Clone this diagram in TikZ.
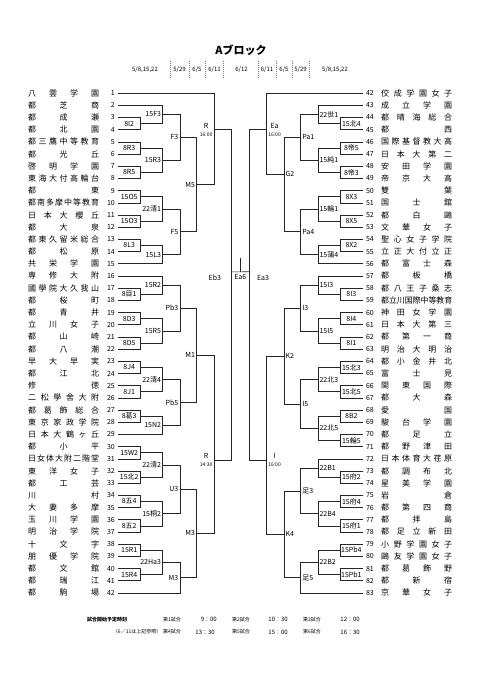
\documentclass[tikz,border=0pt]{standalone}
\usepackage{fontspec}
\setmainfont{Noto Sans CJK JP}
\usepackage{graphicx}
\usetikzlibrary{calc}

% names spread over a fixed width, squeezed when too long
\newcommand\spreadname[1]{{\spaceskip=0pt plus 1fil\relax
  \sbox0{#1}%
  \ifdim\wd0>71pt \resizebox{71pt}{\height}{#1}\else\makebox[71pt][s]{#1}\fi}}
\newcommand\stime[1]{{\fontsize{5}{5}\selectfont #1}}

% left half: match of two entries, label left of the vertical
\newcommand\matchL[6][0.5]{%
  \draw[bline] (#3) -- (#3 -| #5) -- (#4 -| #5) -- (#4);
  \coordinate (#2) at ($(#3 -| #5)!#1!(#4 -| #5)$);
  \node[mlab, anchor=east] (#2t) at ([xshift=-1.5pt]#2) {#6};}
\newcommand\boxL[4]{%
  \draw[bline] (#2) -- (#2 -| xa) -- (#3 -| xa) -- (#3);
  \coordinate (#1) at ($(#2 -| xa)!0.5!(#3 -| xa)$);
  \node[mlab] (#1t) at ([xshift=-11.5pt]#1) {#4};}
% right half: mirrored
\newcommand\matchR[6][0.5]{%
  \draw[bline] (#3) -- (#3 -| #5) -- (#4 -| #5) -- (#4);
  \coordinate (#2) at ($(#3 -| #5)!#1!(#4 -| #5)$);
  \node[mlab, anchor=west] (#2t) at ([xshift=1.5pt]#2) {#6};}
\newcommand\boxR[4]{%
  \draw[bline] (#2) -- (#2 -| ya) -- (#3 -| ya) -- (#3);
  \coordinate (#1) at ($(#2 -| ya)!0.5!(#3 -| ya)$);
  \node[mlab] (#1t) at ([xshift=11.5pt]#1) {#4};}

\begin{document}
\begin{tikzpicture}[
  x=1pt, y=-1pt,
  bline/.style={line width=0.6pt, draw=black!85},
  tname/.style={font=\fontsize{8}{8}\selectfont, inner sep=0pt},
  tnum/.style={font=\fontsize{7}{7}\selectfont, inner sep=0pt},
  mlab/.style={font=\fontsize{7}{7}\selectfont, inner sep=0pt, align=center},
  dlab/.style={font=\fontsize{6}{6}\selectfont, inner sep=0pt},
  sep/.style={gray, line width=0.5pt, dash pattern=on 1pt off 1pt},
  legend/.style={font=\fontsize{5}{5}\selectfont, inner sep=0pt, anchor=west},
  ltime/.style={font=\fontsize{6}{6}\selectfont, inner sep=0pt, anchor=east},
]
\path[fill=white] (0,0) rectangle (481,680);
\useasboundingbox (0,0) rectangle (481,680);

% Header
\node[font=\bfseries\fontsize{11}{11}\selectfont] (title) at (241,50.5) {Aブロック};
\node[dlab] (dL1) at (145,70) {5/8,15,22};
\node[dlab] (dL2) at (179.5,70) {5/29};
\node[dlab] (dL3) at (197,70) {6/5};
\node[dlab] (dL4) at (214.5,70) {6/11};
\node[dlab] (dC)  at (241.5,70) {6/12};
\node[dlab] (dR4) at (267,70) {6/11};
\node[dlab] (dR3) at (284,70) {6/5};
\node[dlab] (dR2) at (300.5,70) {5/29};
\node[dlab] (dR1) at (335,70) {5/8,15,22};
\foreach \x in {170,189,205.5,223.5,258.5,276,292.5,309.5}
  \draw[sep] (\x,61) -- (\x,79);

% Round columns
\coordinate (xa) at (140.7,0);  \coordinate (ya) at (339.9,0);
\coordinate (xb) at (162.7,0);  \coordinate (yb) at (317.9,0);
\coordinate (xc) at (180,0);    \coordinate (yc) at (300.6,0);
\coordinate (xd) at (196.7,0);  \coordinate (yd) at (283.9,0);
\coordinate (xe) at (214,0);    \coordinate (ye) at (266.6,0);
\coordinate (xf) at (231.7,0);  \coordinate (yf) at (248.9,0);

% Teams, left
\foreach \n/\s in {1/八 雲 学 園, 2/都 芝 商, 3/都 成 瀬, 4/都 北 園,
  5/都 三 鷹 中 等 教 育, 6/都 光 丘, 7/啓 明 学 園, 8/東 海 大 付 高 輪 台,
  9/都 東, 10/都 南 多 摩 中 等 教 育, 11/日 本 大 櫻 丘, 12/都 大 泉,
  13/都 東 久 留 米 総 合, 14/都 松 原, 15/共 栄 学 園, 16/専 修 大 附,
  17/國 學 院 大 久 我 山, 18/都 桜 町, 19/都 青 井, 20/立 川 女 子,
  21/都 山 崎, 22/都 八 潮, 23/早 大 早 実, 24/都 江 北, 25/修 徳,
  26/二 松 學 舍 大 附, 27/都 葛 飾 総 合, 28/東 京 家 政 学 院,
  29/日 本 大 鶴 ヶ 丘, 30/都 小 平, 31/日 女 体 大 附 二 階 堂,
  32/東 洋 女 子, 33/都 工 芸, 34/川 村, 35/大 妻 多 摩, 36/玉 川 学 園,
  37/明 治 学 院, 38/十 文 字, 39/朋 優 学 院, 40/都 文 館, 41/都 瑞 江,
  42/都 駒 場}{
  \pgfmathsetmacro\yy{93.1+(\n-1)*12.19}
  \node[tnum, anchor=east] (nL\n) at (115,\yy) {\n};
  \node[tname, anchor=west] (sL\n) at (28,\yy) {\spreadname{\s}};
  \coordinate (L\n) at (117.8,\yy);
}

% Teams, right
\foreach \n/\s in {42/佼 成 学 園 女 子, 43/成 立 学 園, 44/都 晴 海 総 合,
  45/都 西, 46/国 際 基 督 教 大 高, 47/日 本 大 第 二, 48/安 田 学 園,
  49/帝 京 大 高, 50/雙 葉, 51/国 士 舘, 52/都 白 鷗, 53/文 華 女 子,
  54/聖 心 女 子 学 院, 55/立 正 大 付 立 正, 56/都 富 士 森, 57/都 板 橋,
  58/都 八 王 子 桑 志, 59/都 立 川 国 際 中 等 教 育, 60/神 田 女 学 園,
  61/日 本 大 第 三, 62/都 第 一 商, 63/明 治 大 明 治, 64/都 小 金 井 北,
  65/富 士 見, 66/関 東 国 際, 67/都 大 森, 68/愛 国, 69/駿 台 学 園,
  70/都 足 立, 71/都 野 津 田, 72/日 本 体 育 大 荏 原, 73/都 調 布 北,
  74/星 美 学 園, 75/岩 倉, 76/都 第 四 商, 77/都 拝 島, 78/都 足 立 新 田,
  79/小 野 学 園 女 子, 80/鷗 友 学 園 女 子, 81/都 葛 飾 野, 82/都 新 宿,
  83/京 華 女 子}{
  \pgfmathsetmacro\yy{93.1+(\n-42)*12.19}
  \node[tnum, anchor=west] (nR\n) at (365.8,\yy) {\n};
  \node[tname, anchor=west] (sR\n) at (381,\yy) {\spreadname{\s}};
  \coordinate (R\n) at (362.8,\yy);
}

% Left bracket: first round
\boxL{a3}{L3}{L4}{8I2}
\boxL{a5}{L5}{L6}{8R3}
\boxL{a7}{L7}{L8}{8R5}
\boxL{a9}{L9}{L10}{15O5}
\boxL{a11}{L11}{L12}{15O3}
\boxL{a13}{L13}{L14}{8L3}
\boxL{a17}{L17}{L18}{8目1}
\boxL{a19}{L19}{L20}{8D3}
\boxL{a21}{L21}{L22}{8D5}
\boxL{a23}{L23}{L24}{8J4}
\boxL{a25}{L25}{L26}{8J1}
\boxL{a27}{L27}{L28}{8葛3}
\boxL{a30}{L30}{L31}{15W2}
\boxL{a32}{L32}{L33}{15北2}
\boxL{a34}{L34}{L35}{8五4}
\boxL{a36}{L36}{L37}{8五2}
\boxL{a38}{L38}{L39}{15R1}
\boxL{a40}{L40}{L41}{15R4}
% second round
\matchL{b2}{L2}{a3}{xb}{15F3}
\matchL{b5}{a5}{a7}{xb}{15R3}
\matchL{b9}{a9}{a11}{xb}{22清1}
\matchL{b13}{a13}{L15}{xb}{15L3}
\matchL{b16}{L16}{a17}{xb}{15R2}
\matchL{b19}{a19}{a21}{xb}{15R5}
\matchL{b23}{a23}{a25}{xb}{22清4}
\matchL{b27}{a27}{L29}{xb}{15N2}
\matchL{b30}{a30}{a32}{xb}{22清2}
\matchL{b34}{a34}{a36}{xb}{15桐2}
\matchL{b38}{a38}{a40}{xb}{22Ha3}
% third round
\matchL{c2}{b2}{b5}{xc}{F3}
\matchL{c9}{b9}{b13}{xc}{F5}
\matchL{c16}{b16}{b19}{xc}{Pb3}
\matchL{c23}{b23}{b27}{xc}{Pb5}
\matchL{c30}{b30}{b34}{xc}{U3}
\matchL{c38}{b38}{L42}{xc}{M3}
% fourth round
\matchL{d2}{c2}{c9}{xd}{M5}
\matchL{d16}{c16}{c23}{xd}{M1}
\matchL{d30}{c30}{c38}{xd}{M3}
% fifth round
\matchL[0.40]{e1}{L1}{d2}{xe}{R\\[1pt]\stime{16:00}}
\matchL[0.59]{e16}{d16}{d30}{xe}{R\\[1pt]\stime{14:30}}
\matchL[0.43]{f1}{e1}{e16}{xf}{}
\node[mlab, anchor=east] (eb3) at ([xshift=-10.5pt, yshift=-6pt]f1) {Eb3};

% Right bracket: first round
\boxR{p44}{R44}{R45}{15北4}
\boxR{p46}{R46}{R47}{8帝5}
\boxR{p48}{R48}{R49}{8帝3}
\boxR{p50}{R50}{R51}{8X3}
\boxR{p52}{R52}{R53}{8X5}
\boxR{p54}{R54}{R55}{8X2}
\boxR{p58}{R58}{R59}{8I3}
\boxR{p60}{R60}{R61}{8I4}
\boxR{p62}{R62}{R63}{8I1}
\boxR{p64}{R64}{R65}{15北3}
\boxR{p66}{R66}{R67}{15北5}
\boxR{p68}{R68}{R69}{8B2}
\boxR{p70}{R70}{R71}{15輪5}
\boxR{p73}{R73}{R74}{15府2}
\boxR{p75}{R75}{R76}{15府4}
\boxR{p77}{R77}{R78}{15府1}
\boxR{p79}{R79}{R80}{15Pb4}
\boxR{p81}{R81}{R82}{15Pb1}
% second round
\matchR{q43}{R43}{p44}{yb}{22世1}
\matchR{q46}{p46}{p48}{yb}{15純1}
\matchR{q50}{p50}{p52}{yb}{15輪1}
\matchR{q54}{p54}{R56}{yb}{15蒲4}
\matchR{q57}{R57}{p58}{yb}{15I3}
\matchR{q60}{p60}{p62}{yb}{15I5}
\matchR{q64}{p64}{p66}{yb}{22北3}
\matchR{q68}{p68}{p70}{yb}{22北5}
\matchR{q72}{R72}{p73}{yb}{22B1}
\matchR{q75}{p75}{p77}{yb}{22B4}
\matchR{q79}{p79}{p81}{yb}{22B2}
% third round
\matchR{r43}{q43}{q46}{yc}{Pa1}
\matchR{r50}{q50}{q54}{yc}{Pa4}
\matchR{r57}{q57}{q60}{yc}{I3}
\matchR{r64}{q64}{q68}{yc}{I5}
\matchR{r72}{q72}{q75}{yc}{足3}
\matchR{r79}{q79}{R83}{yc}{足5}
% fourth round
\matchR[0.39]{s43}{r43}{r50}{yd}{G2}
\matchR{s57}{r57}{r64}{yd}{K2}
\matchR{s72}{r72}{r79}{yd}{K4}
% fifth round
\matchR[0.45]{t42}{R42}{s43}{ye}{Ea\\[1pt]\stime{16:00}}
\matchR[0.585]{t57}{s57}{s72}{ye}{I\\[1pt]\stime{16:00}}
\matchR[0.43]{u42}{t42}{t57}{yf}{}
\node[mlab, anchor=west] (ea3) at ([xshift=8pt, yshift=-6pt]u42) {Ea3};

% Final
\draw[bline] (f1) -- (u42);
\coordinate (fin) at ($(f1)!0.5!(u42)$);
\coordinate (fintop) at ([yshift=14pt]fin);
\draw[bline] (fin) -- (fintop);
\node[mlab] (ea6) at ([yshift=-5.5pt]fin) {Ea6};

% Start times
\node[legend, font=\bfseries\fontsize{5}{5}\selectfont] (lg) at (87,619.5) {試合開始予定時刻};
\node[legend] (g1) at (163,619.5) {第1試合};
\node[ltime] (t1) at (217,619.5) {9：00};
\node[legend] (g2) at (232,619.5) {第2試合};
\node[ltime] (t2) at (288,619.5) {10：30};
\node[legend] (g3) at (303,619.5) {第3試合};
\node[ltime] (t3) at (360,619.5) {12：00};
\node[legend, anchor=east] (lg2) at (161.5,632) {（6／11は上記参照）};
\node[legend] (g4) at (163,632) {第4試合};
\node[ltime] (t4) at (215,632) {13：30};
\node[legend] (g5) at (232,632) {第5試合};
\node[ltime] (t5) at (288,632) {15：00};
\node[legend] (g6) at (303,632) {第6試合};
\node[ltime] (t6) at (360,632) {16：30};
\end{tikzpicture}
\end{document}
